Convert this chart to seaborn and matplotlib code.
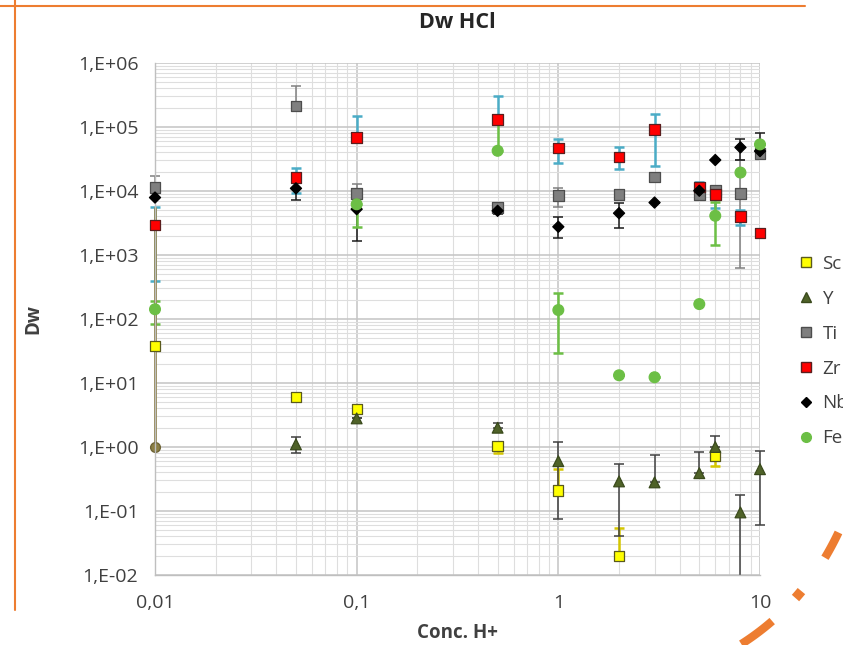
import numpy as np
import pandas as pd
import matplotlib
matplotlib.use("Agg")
import matplotlib.pyplot as plt
import matplotlib.ticker as mticker
from matplotlib.lines import Line2D
from matplotlib.patches import Rectangle
import seaborn as sns

nan = np.nan

# ======================
# Datos
# ======================
conc = [0.01, 0.05, 0.1, 0.5, 1, 2, 3, 5, 6, 8, 10]

sc = [38, 6.0, 3.9, 1.04, 0.21, 0.02, nan, nan, 0.73, nan, nan]
sc_hi = [nan, nan, nan, nan, 0.46, 0.055, nan, nan, nan, nan, nan]
sc_lo = [nan, nan, nan, 0.8, nan, nan, nan, nan, 0.51, nan, nan]

y_el = [nan, 1.1, 2.8, 2.0, 0.6, 0.29, 0.28, 0.39, 1.0, 0.095, 0.45]
y_hi = [nan, 1.45, nan, 2.4, 1.2, 0.55, 0.75, 0.83, 1.5, 0.18, 0.87]
y_lo = [nan, 0.8, nan, nan, 0.074, 0.04, nan, nan, nan, 1e-4, 0.06]

# punto aislado en 0,01 (círculo oliva con barra larga)
y0_x = [0.01]
y0 = [1.0]
y0_hi = [5600]

ti = [11200, 213000, 9200, 5500, 8400, 8900, 16500, 8700, 10100, 9200, 39000]
ti_hi = [17000, 437000, 12700, nan, 11100, nan, nan, nan, nan, 30000, nan]
ti_lo = [nan, nan, nan, nan, 5700, nan, nan, nan, nan, 620, nan]

zr = [2950, 16300, 68000, 132000, 47000, 34000, 91000, 11500, 8700, 4000, 2200]
zr_hi = [5600, 22500, 150000, 305000, 65000, 48000, 160000, 13700, 11700, 5000, nan]
zr_lo = [390, 9200, nan, nan, 27000, 22000, 24600, nan, 5500, 2900, nan]

nb = [7900, 11000, 5200, 4900, 2760, 4500, 6600, 10100, 30500, 48000, 42000]
nb_hi = [nan, nan, nan, 5600, 3900, 6400, nan, nan, nan, 66000, 80000]
nb_lo = [nan, 7200, 1670, 4300, 1820, 2600, nan, nan, nan, 30000, nan]

fe = [142, nan, 6200, 42500, 138, 13.2, 12.3, 171, 4100, 19400, 53500]
fe_hi = [193, nan, nan, 130000, 257, nan, nan, nan, 6800, nan, nan]
fe_lo = [85, nan, 2700, nan, 29, nan, nan, nan, 1440, nan, nan]

elementos = ["Sc", "Y", "Ti", "Zr", "Nb", "Fe"]
valores = [sc, y_el, ti, zr, nb, fe]
altos = [sc_hi, y_hi, ti_hi, zr_hi, nb_hi, fe_hi]
bajos = [sc_lo, y_lo, ti_lo, zr_lo, nb_lo, fe_lo]

# Estilo tipo Excel
relleno = {"Sc": "#FFFF00", "Y": "#4F6228", "Ti": "#7F7F7F",
           "Zr": "#FF0000", "Nb": "#000000", "Fe": "#6CBF45"}
borde = {"Sc": "#5A5A1E", "Y": "#3A4A1C", "Ti": "#4D4D4D",
         "Zr": "#5A1E1E", "Nb": "#000000", "Fe": "#6CBF45"}
marcadores = {"Sc": "s", "Y": "^", "Ti": "s", "Zr": "s", "Nb": "D", "Fe": "o"}
tamanos = {"Sc": 55, "Y": 60, "Ti": 60, "Zr": 60, "Nb": 32, "Fe": 60}
color_err = {"Sc": "#D4C600", "Y": "#404040", "Ti": "#808080",
             "Zr": "#4BACC6", "Nb": "#1A1A1A", "Fe": "#6CBF45"}

filas = []
for el, vals in zip(elementos, valores):
    for c, v in zip(conc, vals):
        filas.append({"Conc": c, "Dw": v, "el": el})
df = pd.DataFrame(filas).dropna()

sns.set_theme(style="white")
plt.rcParams["font.family"] = ["Open Sans", "DejaVu Sans"]

fig = plt.figure(figsize=(8.43, 6.45), dpi=100)
ax = fig.add_axes([155 / 843, 1 - 575 / 645, 605 / 843, 512 / 645])
ax.set_xscale("log")
ax.set_yscale("log")
ax.set_xlim(0.01, 10)
ax.set_ylim(1e-2, 1e6)

# recorte solo por abajo (los puntos de los bordes se ven enteros)
clip = Rectangle((-0.1, 0), 1.2, 1.2, transform=ax.transAxes, visible=False)
ax.add_patch(clip)


def recortar(cont):
    for art in cont.lines[1] + cont.lines[2]:
        art.set_clip_path(clip)
    if cont.lines[0] is not None:
        cont.lines[0].set_clip_path(clip)


# barras de error por serie
for el, vals, hi, lo in zip(elementos, valores, altos, bajos):
    v = np.array(vals, dtype=float)
    h = np.array(hi, dtype=float)
    l = np.array(lo, dtype=float)
    up = np.nan_to_num(np.where(np.isnan(h), 0, h - v))
    dn = np.nan_to_num(np.where(np.isnan(l), 0, v - l))
    grueso = 1.8 if el in ("Zr", "Fe", "Sc") else 1.1
    cont = ax.errorbar(conc, v, yerr=[dn, up], fmt="none", ecolor=color_err[el],
                       elinewidth=grueso, capsize=3.5, capthick=grueso, zorder=2)
    recortar(cont)

# punto oliva en 0,01
cont = ax.errorbar(y0_x, y0, yerr=[[0], [y0_hi[0] - y0[0]]], fmt="o", color="#8C7F45",
                   ms=7, mec="#6E6436", elinewidth=2, capsize=0, zorder=2)
recortar(cont)

sns.scatterplot(data=df, x="Conc", y="Dw", hue="el", style="el",
                hue_order=elementos, style_order=elementos,
                palette=relleno, markers=marcadores, size="el",
                sizes=tamanos, legend=False, ax=ax, zorder=3, clip_on=False,
                linewidth=0.9, edgecolor=[borde[e] for e in df["el"]])

ax.set_xlim(0.01, 10)
ax.set_ylim(1e-2, 1e6)

# rejilla mayor y menor
ax.xaxis.set_minor_locator(mticker.LogLocator(base=10, subs=np.arange(2, 10), numticks=20))
ax.yaxis.set_minor_locator(mticker.LogLocator(base=10, subs=np.arange(2, 10), numticks=40))
ax.yaxis.set_major_locator(mticker.LogLocator(base=10, numticks=20))
ax.grid(which="major", color="#C4C4C4", linewidth=1.1)
ax.grid(which="minor", color="#DEDEDE", linewidth=0.8)
ax.set_axisbelow(True)
for s in ["top", "right"]:
    ax.spines[s].set_visible(False)
for s in ["left", "bottom"]:
    ax.spines[s].set_color("#BFBFBF")
    ax.spines[s].set_linewidth(1.0)


def fmt_y(v, pos):
    e = int(round(np.log10(v)))
    signo = "+" if e >= 0 else "-"
    return f"1,E{signo}{abs(e):02d}"


def fmt_x(v, pos):
    return f"{v:g}".replace(".", ",")


ax.yaxis.set_major_formatter(mticker.FuncFormatter(fmt_y))
ax.xaxis.set_major_formatter(mticker.FuncFormatter(fmt_x))
ax.yaxis.set_minor_formatter(mticker.NullFormatter())
ax.xaxis.set_minor_formatter(mticker.NullFormatter())
ax.tick_params(which="both", length=0, labelsize=14, colors="#404040")
ax.tick_params(axis="y", pad=12)
ax.tick_params(axis="x", pad=14)

ax.set_xlabel("Conc. H+", fontsize=13.5, fontweight="bold", color="#404040")
ax.set_ylabel("Dw", fontsize=13.5, fontweight="bold", color="#404040")
ax.xaxis.set_label_coords(0.5, -0.094)
ax.yaxis.set_label_coords(-0.185, 0.5)
fig.text(457 / 843, 1 - 22 / 645, "Dw HCl", ha="center", va="center",
         fontsize=15.5, fontweight="bold", color="#262626")

# leyenda a la derecha (recortada por el borde, como en la imagen)
handles = [Line2D([], [], linestyle="none", marker=marcadores[e],
                  markerfacecolor=relleno[e], markeredgecolor=borde[e],
                  markersize=7 if e != "Nb" else 5.5) for e in elementos]
fig.legend(handles, elementos, loc="upper left",
           bbox_to_anchor=(800 / 843, 1 - 255 / 645), frameon=False,
           fontsize=13.5, labelspacing=0.9, handlelength=0.6,
           handletextpad=0.6, borderaxespad=0, borderpad=0,
           labelcolor="#404040")

# decoraciones naranjas de la diapositiva
naranja = "#ED7D31"
fig.add_artist(Line2D([0, 805 / 843], [1 - 6 / 645, 1 - 6 / 645],
                      color=naranja, lw=1.5, transform=fig.transFigure))
fig.add_artist(Line2D([15 / 843, 15 / 843], [1, 1 - 610 / 645],
                      color=naranja, lw=1.5, transform=fig.transFigure))
for t0, t1, ancho in [(0.15, 0.30, 6), (0.52, 0.57, 7), (0.75, 0.96, 6)]:
    t = np.linspace(t0, t1, 20)
    px = (1 - t) ** 2 * 850 + 2 * (1 - t) * t * 815 + t ** 2 * 735
    py = (1 - t) ** 2 * 505 + 2 * (1 - t) * t * 600 + t ** 2 * 648
    fig.add_artist(Line2D(px / 843, 1 - py / 645, color=naranja, lw=ancho,
                          solid_capstyle="butt", transform=fig.transFigure))

fig.savefig("out.png", dpi=100)
